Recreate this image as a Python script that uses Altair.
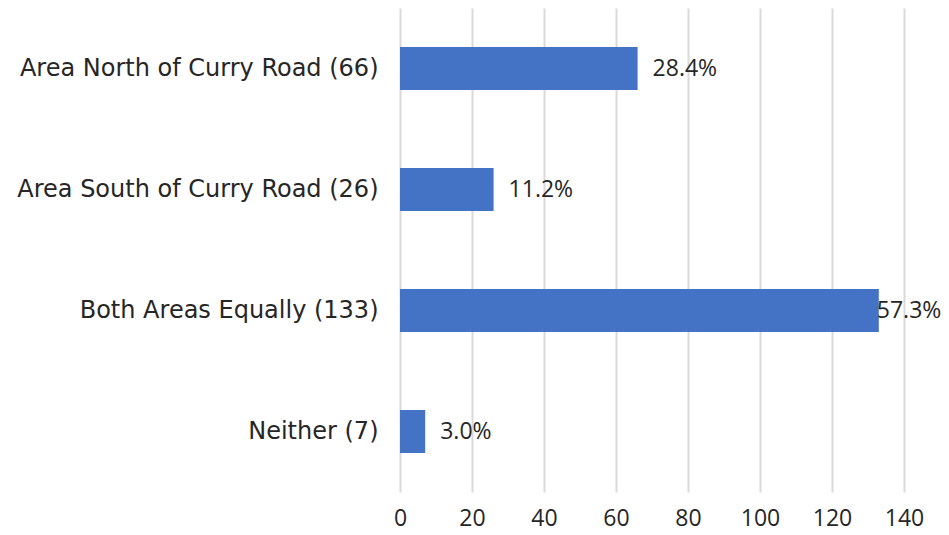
import altair as alt
import pandas as pd

categories = ["Area North of Curry Road (66)", "Area South of Curry Road (26)",
              "Both Areas Equally (133)", "Neither (7)"]
counts = [66, 26, 133, 7]
pct_labels = ["28.4%", "11.2%", "57.3%", "3.0%"]
x_ticks = [0, 20, 40, 60, 80, 100, 120, 140]

df = pd.DataFrame({"cat": categories, "n": counts, "lab": pct_labels})

CAT_FONT = "DejaVu Sans"
NUM_FONT = "Open Sans"
TXT = "#262626"

y_enc = alt.Y("cat:N", sort=categories, title=None,
              scale=alt.Scale(paddingInner=0.645, paddingOuter=0.3225),
              axis=alt.Axis(ticks=False, domain=False, labelPadding=22,
                            labelFont=CAT_FONT, labelFontSize=24, labelColor=TXT,
                            labelLimit=400))
x_enc = alt.X("n:Q", title=None,
              scale=alt.Scale(domain=[0, 140], nice=False),
              axis=alt.Axis(values=x_ticks, grid=True, gridColor="#D9D9D9",
                            gridWidth=2, ticks=False, domain=False,
                            labelPadding=15, labelFont=NUM_FONT, labelFontSize=23,
                            labelColor=TXT, labelFlush=False))

bars = alt.Chart(df).mark_bar(color="#4472C4").encode(y=y_enc, x=x_enc)

txt_out = alt.Chart(df).transform_filter("datum.n < 120").mark_text(
    align="left", baseline="middle", dx=15, font=NUM_FONT, fontSize=23, color=TXT
).encode(y=alt.Y("cat:N", sort=categories), x="n:Q", text="lab:N")

txt_in = alt.Chart(df).transform_filter("datum.n >= 120").mark_text(
    align="left", baseline="middle", dx=-2, font=NUM_FONT, fontSize=23, color=TXT
).encode(y=alt.Y("cat:N", sort=categories), x="n:Q", text="lab:N")

chart = alt.layer(bars, txt_out, txt_in).properties(
    width=504, height=484,
    autosize=alt.AutoSizeParams(type="none"),
    padding={"left": 392, "top": 0, "right": 37, "bottom": 43},
).configure_view(stroke=None)

chart.save("out.html", embed_options={"renderer": "svg", "actions": False})
